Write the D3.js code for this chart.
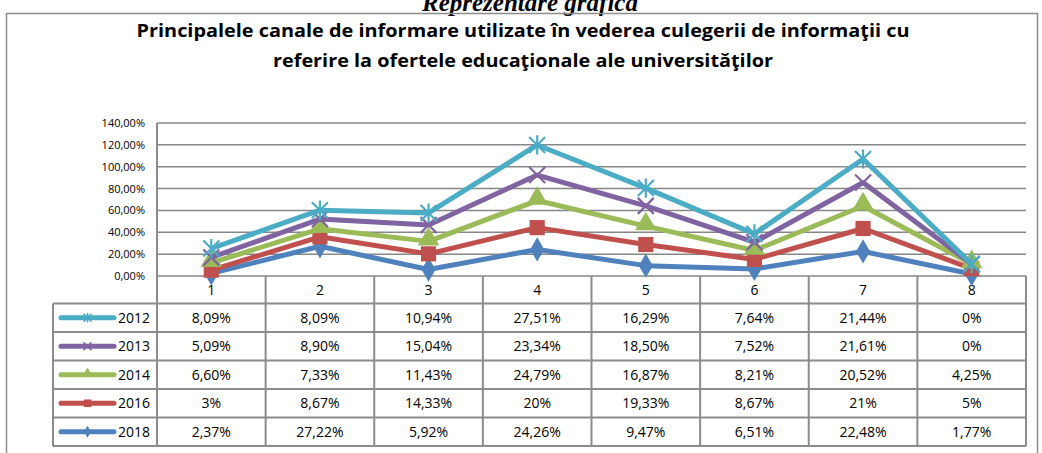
<!DOCTYPE html>
<head>
  <meta charset="utf-8">
  <title>Principalele canale de informare</title>
  <script src="https://d3js.org/d3.v7.min.js"></script>
  <style>
    body { margin: 0; background: #fff; }
    text { font-family: "Open Sans", "Noto Sans", sans-serif; fill: #000; }
  </style>
</head>
<body>
<script>

  // data
  let categories = ["1", "2", "3", "4", "5", "6", "7", "8"];
  let years = ["2012", "2013", "2014", "2016", "2018"];
  let v2012 = [8.09, 8.09, 10.94, 27.51, 16.29, 7.64, 21.44, 0];
  let v2013 = [5.09, 8.90, 15.04, 23.34, 18.50, 7.52, 21.61, 0];
  let v2014 = [6.60, 7.33, 11.43, 24.79, 16.87, 8.21, 20.52, 4.25];
  let v2016 = [3, 8.67, 14.33, 20, 19.33, 8.67, 21, 5];
  let v2018 = [2.37, 27.22, 5.92, 24.26, 9.47, 6.51, 22.48, 1.77];
  let labels2012 = ["8,09%", "8,09%", "10,94%", "27,51%", "16,29%", "7,64%", "21,44%", "0%"];
  let labels2013 = ["5,09%", "8,90%", "15,04%", "23,34%", "18,50%", "7,52%", "21,61%", "0%"];
  let labels2014 = ["6,60%", "7,33%", "11,43%", "24,79%", "16,87%", "8,21%", "20,52%", "4,25%"];
  let labels2016 = ["3%", "8,67%", "14,33%", "20%", "19,33%", "8,67%", "21%", "5%"];
  let labels2018 = ["2,37%", "27,22%", "5,92%", "24,26%", "9,47%", "6,51%", "22,48%", "1,77%"];
  let y_ticks = [0, 20, 40, 60, 80, 100, 120, 140];

  let width = 1042;
  let height = 453;
  let plot = {left: 157, right: 1026, top: 123, bottom: 276};
  let legend_left = 53;
  let row_h = 28.5;
  let header_h = 27.5;

  let series = {
    "2012": {values: v2012, labels: labels2012, color: "#4bacc6", marker: "star"},
    "2013": {values: v2013, labels: labels2013, color: "#8064a2", marker: "x"},
    "2014": {values: v2014, labels: labels2014, color: "#9bbb59", marker: "triangle"},
    "2016": {values: v2016, labels: labels2016, color: "#c0504d", marker: "square"},
    "2018": {values: v2018, labels: labels2018, color: "#4f81bd", marker: "diamond"}
  };

  let svg = d3.select("body").append("svg")
      .attr("width", width)
      .attr("height", height);

  // heading above the chart box (cut off at the top, as in the source)
  svg.append("text")
      .text("Reprezentare grafică")
      .attr("x", 530)
      .attr("y", 11)
      .attr("text-anchor", "middle")
      .style("font-family", "'Liberation Serif', serif")
      .style("font-style", "italic")
      .style("font-weight", "bold")
      .style("font-size", "25px");

  // chart box
  svg.append("path")
      .attr("d", "M6.5,453 V13.5 H1037.5 V453")
      .style("fill", "none")
      .style("stroke", "#8c8c8c")
      .style("stroke-width", "1.5px");

  svg.append("text")
      .text("Principalele canale de informare utilizate în vederea culegerii de informaţii cu")
      .attr("x", 523)
      .attr("y", 37)
      .attr("text-anchor", "middle")
      .attr("textLength", 773)
      .attr("lengthAdjust", "spacingAndGlyphs")
      .style("font-weight", "bold")
      .style("font-size", "17px");

  svg.append("text")
      .text("referire la ofertele educaţionale ale universităţilor")
      .attr("x", 523)
      .attr("y", 67)
      .attr("text-anchor", "middle")
      .attr("textLength", 500)
      .attr("lengthAdjust", "spacingAndGlyphs")
      .style("font-weight", "bold")
      .style("font-size", "17px");

  // scales
  let x = d3.scaleBand()
      .domain(categories)
      .range([plot.left, plot.right]);

  let y = d3.scaleLinear()
      .domain([0, 140])
      .range([plot.bottom, plot.top]);

  // gridlines
  svg.append("g")
      .selectAll("line")
      .data(y_ticks)
      .enter()
      .append("line")
      .attr("x1", plot.left)
      .attr("x2", plot.right)
      .attr("y1", d => y(d))
      .attr("y2", d => y(d))
      .style("stroke", "#878787")
      .style("stroke-width", "1.5px");

  let y_axis = d3.axisLeft(y)
      .tickValues(y_ticks)
      .tickSize(0)
      .tickPadding(12)
      .tickFormat(d => d3.format(".2f")(d).replace(".", ",") + "%");

  svg.append("g")
      .attr("transform", "translate(" + plot.left + ",0)")
      .call(y_axis)
      .call(g => g.select(".domain").remove())
      .selectAll("text")
      .style("font-size", "11px")
      .style("font-family", "'Open Sans', sans-serif");

  // table
  let table = svg.append("g");
  let table_bottom = plot.bottom + header_h + years.length * row_h;
  let grid_col = "#8c8c8c";

  // vertical lines between categories
  table.selectAll(".vline")
      .data(d3.range(categories.length + 1))
      .enter()
      .append("line")
      .attr("x1", i => plot.left + i * x.bandwidth())
      .attr("x2", i => plot.left + i * x.bandwidth())
      .attr("y1", i => i === 0 ? plot.top : plot.bottom)
      .attr("y2", table_bottom)
      .style("stroke", grid_col)
      .style("stroke-width", "2px");

  // horizontal row lines
  table.selectAll(".hline")
      .data(d3.range(years.length + 1))
      .enter()
      .append("line")
      .attr("x1", legend_left)
      .attr("x2", plot.right)
      .attr("y1", i => plot.bottom + header_h + i * row_h)
      .attr("y2", i => plot.bottom + header_h + i * row_h)
      .style("stroke", grid_col)
      .style("stroke-width", "2px");

  table.append("line")
      .attr("x1", legend_left)
      .attr("x2", legend_left)
      .attr("y1", plot.bottom + header_h)
      .attr("y2", table_bottom)
      .style("stroke", grid_col)
      .style("stroke-width", "2px");

  // category labels
  table.selectAll(".cat")
      .data(categories)
      .enter()
      .append("text")
      .text(d => d)
      .attr("x", d => x(d) + x.bandwidth() / 2)
      .attr("y", plot.bottom + 19)
      .attr("text-anchor", "middle")
      .style("font-size", "14px");

  // value cells
  years.forEach(function (yr, r) {
    let row_mid = plot.bottom + header_h + r * row_h + row_h / 2;
    table.selectAll(".cell" + yr)
        .data(series[yr].labels)
        .enter()
        .append("text")
        .text(d => d)
        .attr("x", (d, i) => x(categories[i]) + x.bandwidth() / 2)
        .attr("y", row_mid + 5)
        .attr("text-anchor", "middle")
        .style("font-size", "14px");

    // legend key
    table.append("line")
        .attr("x1", legend_left + 8)
        .attr("x2", legend_left + 61)
        .attr("y1", row_mid)
        .attr("y2", row_mid)
        .style("stroke", series[yr].color)
        .style("stroke-width", "5px")
        .style("stroke-linecap", "round");

    draw_marker(table, series[yr].marker, legend_left + 34.5, row_mid, series[yr].color, 0.5);

    table.append("text")
        .text(yr)
        .attr("x", legend_left + 65)
        .attr("y", row_mid + 5)
        .style("font-size", "14px");
  });

  // stacked lines
  let rows = categories.map(function (c, i) {
    let row = {cat: c};
    years.forEach(yr => row[yr] = series[yr].values[i]);
    return row;
  });

  let stack = d3.stack().keys(years.slice().reverse());
  let stacked = stack(rows);

  let line = d3.line()
      .x(d => x(d.data.cat) + x.bandwidth() / 2)
      .y(d => y(d[1]));

  let lines_g = svg.append("g");

  stacked.forEach(function (layer) {
    let s = series[layer.key];
    lines_g.append("path")
        .datum(layer)
        .attr("d", line)
        .style("fill", "none")
        .style("stroke", s.color)
        .style("stroke-width", "5px")
        .style("stroke-linejoin", "round");
    layer.forEach(function (d) {
      draw_marker(lines_g, s.marker, x(d.data.cat) + x.bandwidth() / 2, y(d[1]), s.color, 1);
    });
  });

  function draw_marker(g, type, cx, cy, color, k) {
    let r = 8 * k;
    if (type === "diamond" || type === "square" || type === "triangle") {
      let sym = {diamond: d3.symbolDiamond, square: d3.symbolSquare, triangle: d3.symbolTriangle}[type];
      let size = {diamond: 170, square: 230, triangle: 200}[type] * k * k;
      g.append("path")
          .attr("d", d3.symbol().type(sym).size(size)())
          .attr("transform", "translate(" + cx + "," + (cy + (type === "triangle" ? -2 * k : 0)) + ")")
          .style("fill", color);
    } else {
      let p = d3.path();
      p.moveTo(cx - r, cy - r); p.lineTo(cx + r, cy + r);
      p.moveTo(cx - r, cy + r); p.lineTo(cx + r, cy - r);
      if (type === "star") {
        p.moveTo(cx, cy - r * 1.2); p.lineTo(cx, cy + r * 1.2);
      }
      g.append("path")
          .attr("d", p.toString())
          .style("fill", "none")
          .style("stroke", color)
          .style("stroke-width", (2.2 * Math.max(k, 0.7)) + "px");
    }
  }

</script>
</body>
